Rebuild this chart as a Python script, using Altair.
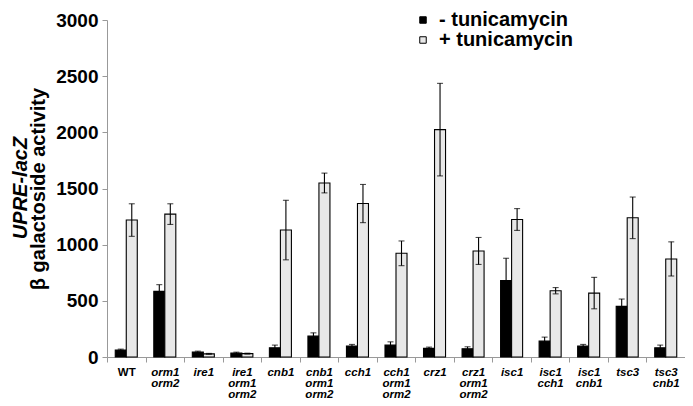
import altair as alt
import pandas as pd

groups = ["WT", "orm1 orm2", "ire1", "ire1 orm1 orm2", "cnb1", "cnb1 orm1 orm2",
          "cch1", "cch1 orm1 orm2", "crz1", "crz1 orm1 orm2", "isc1", "isc1 cch1",
          "isc1 cnb1", "tsc3", "tsc3 cnb1"]
treatments = ["- tunicamycin", "+ tunicamycin"]
minus = [62, 584, 44, 35, 82, 186, 97, 106, 77, 74, 681, 142, 97, 451, 82]
minus_err = [8, 60, 8, 8, 24, 29, 15, 29, 11, 17, 198, 35, 15, 65, 24]
plus = [1219, 1272, 28, 30, 1130, 1549, 1366, 923, 2024, 944, 1224, 590, 569, 1239, 873]
plus_err = [145, 92, 4, 4, 265, 88, 170, 110, 412, 120, 97, 28, 140, 185, 152]
y_ticks = [0, 500, 1000, 1500, 2000, 2500, 3000]
y_title_1 = "UPRE-lacZ"
y_title_2 = "β galactoside activity"

rows = []
for i, g in enumerate(groups):
    rows.append(dict(group=g, treat=treatments[0], value=minus[i],
                     lo=minus[i] - minus_err[i], hi=minus[i] + minus_err[i]))
    rows.append(dict(group=g, treat=treatments[1], value=plus[i],
                     lo=plus[i] - plus_err[i], hi=plus[i] + plus_err[i]))
df = pd.DataFrame(rows)

FONT = "Liberation Sans"

x_enc = alt.X(
    "group:N", sort=groups,
    scale=alt.Scale(paddingInner=0, paddingOuter=0),
    axis=alt.Axis(
        title=None, labelAngle=0,
        labelExpr="split(datum.label, ' ')",
        labelFont=FONT, labelFontSize=11.5, labelFontWeight="bold",
        labelFontStyle={"condition": {"test": "datum.value == 'WT'", "value": "normal"}, "value": "italic"},
        labelColor="black", labelPadding=4, labelLineHeight=11, labelBaseline="top",
        tickBand="extent", tickSize=5, tickColor="#999", domainColor="#999",
        labelOverlap=False,
    ),
)
xo_enc = alt.XOffset("treat:N", sort=treatments,
                     scale=alt.Scale(paddingInner=0, paddingOuter=0.75))
y_scale = alt.Scale(domain=[0, 3000], nice=False)

base = alt.Chart(df)

bars = base.mark_bar(stroke="black", strokeWidth=1.1).encode(
    x=x_enc,
    xOffset=xo_enc,
    y=alt.Y("value:Q", scale=y_scale,
            axis=alt.Axis(values=y_ticks, grid=False, title=y_title_2, format="d",
                          titleFont=FONT, titleFontSize=20, titleFontWeight="bold",
                          titleColor="black", titlePadding=7,
                          labelFont=FONT, labelFontSize=19, labelFontWeight="bold",
                          labelColor="black", labelPadding=4,
                          tickSize=5, tickColor="#999", domainColor="#999")),
    fill=alt.Fill("treat:N", sort=treatments,
                  scale=alt.Scale(domain=treatments, range=["black", "#e8e8e8"]),
                  legend=alt.Legend(title=None, orient="none", legendX=306, legendY=-10,
                                    symbolType="square", symbolSize=42,
                                    symbolStrokeColor="black", symbolStrokeWidth=1,
                                    labelFont=FONT, labelFontSize=20, labelFontWeight="bold",
                                    labelColor="black", rowPadding=0, labelOffset=6)),
)

rules = base.mark_rule(color="black", strokeWidth=1.1).encode(
    x=alt.X("group:N", sort=groups),
    xOffset=alt.XOffset("treat:N", sort=treatments),
    y=alt.Y("lo:Q", scale=y_scale),
    y2="hi:Q",
)
caps_hi = base.mark_tick(color="black", size=6, thickness=1.1, orient="horizontal").encode(
    x=alt.X("group:N", sort=groups),
    xOffset=alt.XOffset("treat:N", sort=treatments),
    y=alt.Y("hi:Q", scale=y_scale),
)
caps_lo = base.mark_tick(color="black", size=6, thickness=1.1, orient="horizontal").encode(
    x=alt.X("group:N", sort=groups),
    xOffset=alt.XOffset("treat:N", sort=treatments),
    y=alt.Y("lo:Q", scale=y_scale),
)

title1 = alt.Chart(pd.DataFrame({"t": [y_title_1]})).mark_text(
    angle=270, font=FONT, fontSize=20, fontWeight="bold", fontStyle="italic",
    align="center", baseline="middle", color="black",
).encode(text="t:N", x=alt.value(-86), y=alt.value(168))

chart = alt.layer(bars, rules, caps_hi, caps_lo, title1).properties(
    width=578, height=337,
    autosize=alt.AutoSizeParams(type="none"),
    padding={"left": 99, "top": 12, "right": 0, "bottom": 41},
).configure_view(stroke=None)

chart.save("out.html", embed_options={"renderer": "svg", "actions": False})
